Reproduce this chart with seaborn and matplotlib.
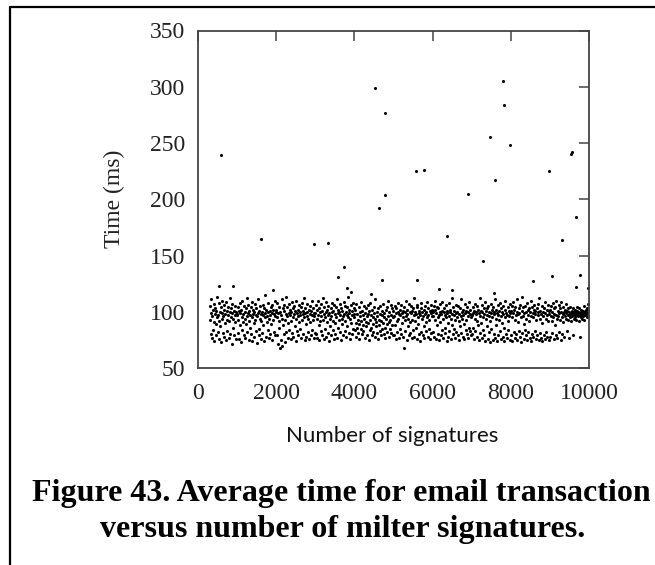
import numpy as np
import pandas as pd
import matplotlib
matplotlib.use("Agg")
import matplotlib.pyplot as plt
import seaborn as sns
from matplotlib.lines import Line2D

# ---- data: average transaction time (ms) per block of signature counts ----
block_starts = [300, 1000, 2000, 3000, 4000, 5000, 6000, 7000, 8000, 9000]
block_ends = [1000, 2000, 3000, 4000, 5000, 6000, 7000, 8000, 9000, 10000]

times_b0 = [105, 93, 80, 99, 111, 77, 96, 102, 84, 91, 107, 74, 98, 103, 89, 79, 101, 95, 113, 82,
            97, 108, 76, 92, 100, 87, 104, 73, 99, 94, 110, 81, 96, 106, 78, 102, 90, 98, 75, 109,
            93, 101, 83, 97, 104, 77, 92, 100, 112, 80, 95, 103, 71, 99, 107, 86, 94, 101, 79, 97,
            105, 91, 76, 100, 98]
times_b1 = [97, 104, 81, 93, 101, 76, 108, 99, 88, 73, 102, 95, 110, 84, 98, 91, 79, 105, 100, 94,
            77, 103, 89, 96, 112, 82, 99, 106, 75, 92, 101, 97, 86, 80, 104, 95, 109, 74, 98, 102,
            90, 78, 100, 107, 93, 83, 97, 103, 72, 96, 111, 99, 85, 79, 101, 94, 105, 76, 98, 92,
            100, 81, 106, 97, 88, 74, 103, 95, 99, 115, 78, 102, 91, 96, 84, 108, 100, 77, 94, 101,
            97, 80, 104, 89, 99, 75, 106, 93, 102, 82, 98, 96, 110, 79, 100]
times_b2 = [102, 79, 95, 108, 71, 99, 86, 104, 92, 68, 100, 97, 75, 111, 94, 70, 103, 88, 80, 101,
            106, 93, 73, 98, 113, 82, 96, 104, 77, 90, 107, 99, 84, 97, 102, 76, 100, 92, 109, 81,
            95, 103, 78, 98, 105, 87, 101, 74, 94, 110, 99, 83, 96, 102, 79, 91, 106, 100, 85, 97,
            104, 77, 93, 108, 98, 80, 101, 95, 112, 75, 99, 103, 89, 78, 96, 107, 100, 82, 94, 102,
            76, 98, 105, 91, 79, 101, 97, 110, 84, 93, 103, 77, 99, 96, 81]
times_b3 = [99, 106, 80, 94, 102, 77, 110, 97, 88, 75, 103, 92, 100, 83, 107, 96, 79, 101, 93, 112,
            76, 98, 104, 85, 95, 100, 78, 109, 91, 102, 81, 97, 105, 74, 99, 94, 87, 103, 79, 96,
            108, 100, 84, 92, 101, 76, 106, 98, 90, 80, 104, 95, 111, 77, 99, 102, 86, 93, 100, 82,
            107, 97, 75, 103, 94, 89, 101, 79, 96, 109, 98, 83, 105, 92, 100, 78, 97, 104, 87, 95,
            113, 81, 99, 102, 76, 94, 106, 90, 80, 101, 97, 108, 85, 98, 103]
times_b4 = [95, 84, 102, 90, 78, 107, 98, 86, 93, 81, 104, 89, 76, 100, 96, 85, 109, 92, 80, 101,
            97, 88, 83, 105, 94, 77, 99, 91, 87, 103, 96, 79, 106, 90, 98, 75, 101, 93, 84, 108,
            97, 86, 79, 102, 95, 89, 82, 104, 99, 78, 94, 111, 87, 91, 81, 100, 96, 76, 103, 93,
            88, 98, 83, 105, 92, 79, 97, 101, 85, 90, 107, 80, 95, 99, 86, 77, 102, 94, 89, 104,
            82, 96, 110, 91, 78, 100, 93, 85, 106, 97, 81, 88, 103, 95, 79]
times_b5 = [101, 79, 96, 105, 88, 99, 76, 103, 92, 82, 100, 108, 94, 77, 98, 102, 85, 97, 80, 106,
            99, 90, 78, 101, 95, 68, 104, 93, 83, 100, 110, 96, 75, 102, 98, 87, 94, 79, 107, 100,
            91, 81, 99, 105, 77, 101, 93, 84, 103, 97, 112, 78, 100, 92, 86, 98, 104, 76, 106, 95,
            89, 80, 101, 99, 74, 97, 103, 82, 108, 94, 100, 79, 96, 102, 87, 77, 105, 98, 91, 83,
            100, 95, 109, 78, 97, 103, 85, 93, 101, 76, 99, 106, 81, 96, 102]
times_b6 = [100, 82, 96, 105, 78, 102, 93, 110, 76, 99, 104, 88, 95, 80, 103, 97, 75, 107, 100, 91,
            79, 98, 101, 84, 109, 94, 77, 100, 103, 86, 97, 81, 106, 95, 74, 101, 99, 90, 78, 108,
            96, 83, 102, 100, 76, 94, 112, 88, 98, 80, 104, 97, 85, 101, 93, 77, 99, 106, 82, 100,
            95, 79, 105, 92, 75, 98, 103, 87, 96, 111, 81, 100, 94, 78, 102, 97, 89, 76, 107, 99,
            84, 93, 101, 80, 104, 96, 77, 100, 109, 86, 98, 83, 102, 95, 79]
times_b7 = [97, 80, 104, 99, 86, 101, 76, 94, 107, 83, 100, 98, 78, 105, 92, 88, 102, 75, 99, 112,
            81, 96, 101, 90, 77, 106, 100, 84, 95, 103, 79, 98, 109, 74, 101, 94, 87, 103, 97, 76,
            105, 96, 82, 100, 92, 73, 99, 107, 85, 102, 95, 75, 104, 98, 80, 100, 111, 77, 94, 102,
            88, 99, 74, 106, 97, 79, 101, 93, 108, 83, 96, 103, 76, 100, 90, 78, 105, 98, 86, 74,
            102, 95, 110, 80, 99, 97, 77, 104, 92, 84, 101, 96, 75, 107, 99]
times_b8 = [101, 79, 95, 105, 74, 99, 109, 82, 102, 93, 77, 104, 97, 80, 100, 111, 75, 98, 91, 83,
            103, 99, 78, 106, 95, 73, 101, 113, 81, 96, 104, 76, 99, 89, 84, 105, 100, 79, 94, 108,
            75, 102, 97, 82, 103, 92, 77, 100, 110, 74, 96, 104, 80, 99, 95, 78, 102, 106, 83, 98,
            101, 76, 93, 103, 79, 100, 107, 97, 75, 112, 94, 81, 101, 98, 77, 105, 90, 74, 100, 96,
            79, 103, 109, 76, 99, 94, 82, 102, 97, 78, 106, 92, 75, 101, 98]
times_b9 = [102, 78, 96, 105, 92, 81, 100, 108, 95, 76, 103, 98, 88, 104, 79, 97, 110, 94, 77, 101,
            96, 106, 82, 99, 93, 103, 75, 100, 109, 95, 80, 98, 104, 91, 100, 78, 102, 96, 107, 94,
            99, 83, 101, 93, 103, 97, 100, 77, 98, 95, 104, 99, 92, 101, 96, 79, 98, 103, 94, 100,
            97, 102, 95, 99, 93, 101, 104, 98, 96, 100, 92, 103, 97, 78, 99, 95, 102, 100, 94, 98,
            101, 96, 99, 105, 93, 100, 97, 102, 98, 95, 103, 99, 107, 96, 101]
blocks = [times_b0, times_b1, times_b2, times_b3, times_b4,
          times_b5, times_b6, times_b7, times_b8, times_b9]

# isolated slow transactions
outlier_x = [588, 534, 887, 1603, 1923, 2970, 3323, 3568, 3739, 3814, 3910, 4412, 4519, 4626,
             4701, 4776, 4776, 5566, 5609, 5780, 6154, 6357, 6496, 6902, 7297, 7468, 7564, 7596,
             7810, 7831, 7970, 8568, 8985, 9060, 9316, 9541, 9573, 9669, 9680, 9765, 9979]
outlier_y = [239, 123, 123, 165, 119, 160, 161, 131, 140, 121, 118, 116, 299, 192,
             128, 277, 204, 225, 128, 226, 120, 167, 119, 205, 145, 255, 117, 217,
             305, 284, 248, 127, 225, 132, 164, 240, 242, 184, 122, 133, 121]

x_ticks = [0, 2000, 4000, 6000, 8000, 10000]
y_ticks = [50, 100, 150, 200, 250, 300, 350]

# ---- assemble table ----
xs, ys = [], []
for s, e, vals in zip(block_starts, block_ends, blocks):
    xs.extend(np.linspace(s, e, len(vals), endpoint=False))
    ys.extend(vals)
xs.extend(outlier_x)
ys.extend(outlier_y)
df = pd.DataFrame({"signatures": xs, "time": ys})

# ---- style ----
sns.set_theme(style="white")
plt.rcParams['font.family'] = ['Liberation Serif', 'DejaVu Serif']

fig = plt.figure(figsize=(6.55, 5.65), dpi=100)
fig.patch.set_facecolor("white")
ax = fig.add_axes([198 / 655, 1 - 368 / 565, 391 / 655, 337.5 / 565])

sns.scatterplot(data=df, x="signatures", y="time", ax=ax, color="black",
                s=5, linewidth=0, legend=False)

ax.set_xlim(0, 10000)
ax.set_ylim(50, 350)
ax.set_xticks(x_ticks)
ax.set_yticks(y_ticks)
ax.set_xticklabels([str(t) for t in x_ticks])
ax.set_yticklabels([str(t) for t in y_ticks])
ax.tick_params(direction="in", length=7.5, width=1.1, color="#444444",
               top=True, right=True, labelsize=17, labelcolor="#222222")
ax.tick_params(axis="x", pad=11)
ax.tick_params(axis="y", pad=9)
for sp in ax.spines.values():
    sp.set_color("#444444")
    sp.set_linewidth(1.3)

ax.set_xlabel("")
ax.set_ylabel("Time (ms)", fontsize=17, color="#222222", labelpad=18)

fig.text(392 / 655, 1 - 436 / 565, "Number of signatures", ha="center", va="center",
         fontsize=16, family=["Lato", "DejaVu Sans"], color="#111111")
fig.text(341 / 655, 1 - 493 / 565, "Figure 43. Average time for email transaction",
         ha="center", va="center", fontsize=23, fontweight="bold", color="black")
fig.text(343 / 655, 1 - 529 / 565, "versus number of milter signatures.",
         ha="center", va="center", fontsize=23, fontweight="bold", color="black")

# page frame (left and top edges)
fig.add_artist(Line2D([10 / 655, 10 / 655], [0, 1 - 7 / 565], transform=fig.transFigure,
                      color="black", linewidth=1.6))
fig.add_artist(Line2D([10 / 655, 1], [1 - 7 / 565, 1 - 7 / 565], transform=fig.transFigure,
                      color="black", linewidth=1.6))

fig.savefig("out.png", dpi=100, facecolor="white")
